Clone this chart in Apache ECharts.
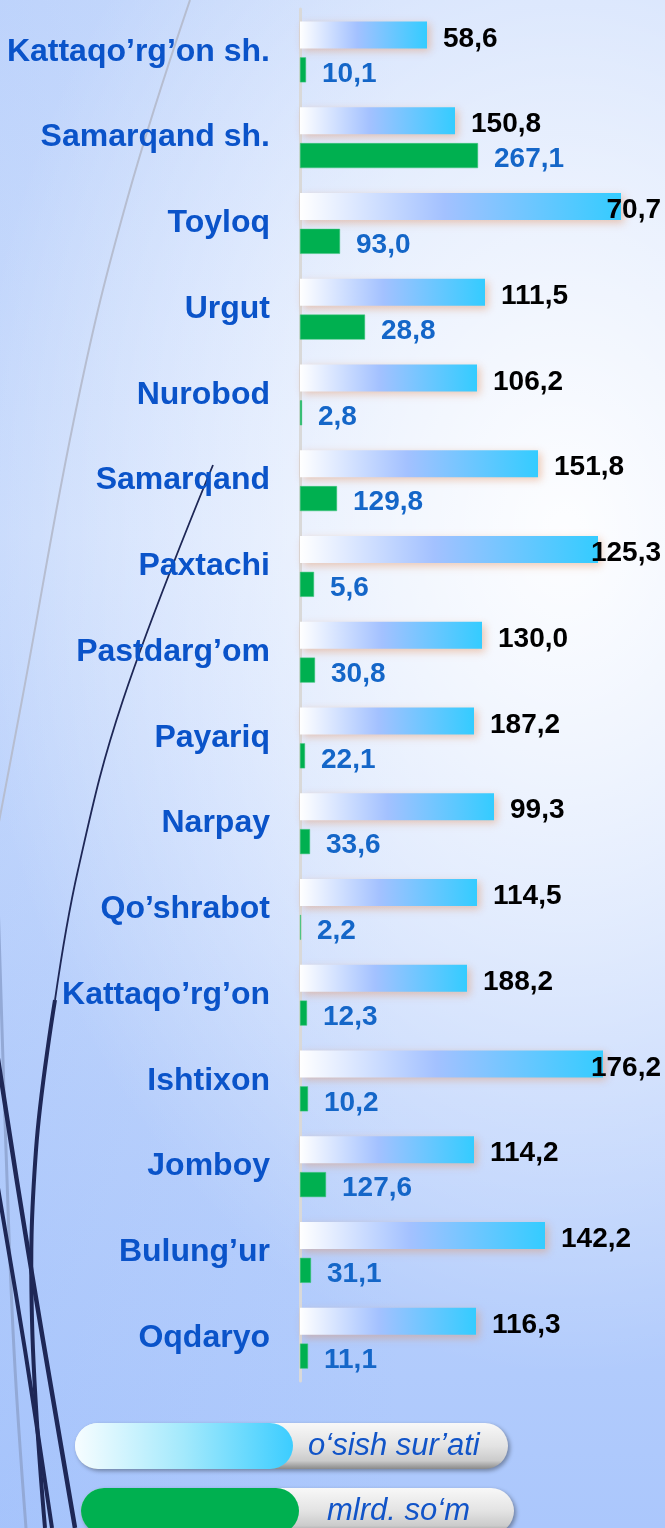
<!DOCTYPE html>
<html>
<head>
<meta charset="utf-8">
<title>Samarqand</title>
<script src="https://cdn.jsdelivr.net/npm/echarts@6/dist/echarts.min.js"></script>
<style>
  html, body { margin: 0; padding: 0; }
  body {
    width: 665px; height: 1528px; overflow: hidden;
    background:
      radial-gradient(ellipse 90% 55% at 85% 35%, rgba(255,255,255,0.95), rgba(255,255,255,0) 100%),
      linear-gradient(to right, rgba(150,185,250,0.25), rgba(255,255,255,0) 60%),
      linear-gradient(to bottom, #cbdcfc 0%, #d8e5fd 35%, #bcd2fc 72%, #abc7fc 100%);
  }
  #main { width: 665px; height: 1528px; }
</style>
</head>
<body>
<div id="main"></div>
<script>
// tumanlar (yuqoridan pastga)
var categories = ['Kattaqo’rg’on sh.', 'Samarqand sh.', 'Toyloq', 'Urgut', 'Nurobod', 'Samarqand',
  'Paxtachi', 'Pastdarg’om', 'Payariq', 'Narpay', 'Qo’shrabot', 'Kattaqo’rg’on',
  'Ishtixon', 'Jomboy', 'Bulung’ur', 'Oqdaryo'];
var seriesNames = ['o‘sish sur’ati', 'mlrd. so‘m'];

// yozuvdagi qiymatlar
var growthRate = [58.6, 150.8, 70.7, 111.5, 106.2, 151.8, 125.3, 130.0, 187.2, 99.3, 114.5, 188.2, 176.2, 114.2, 142.2, 116.3];
var amount = [10.1, 267.1, 93.0, 28.8, 2.8, 129.8, 5.6, 30.8, 22.1, 33.6, 2.2, 12.3, 10.2, 127.6, 31.1, 11.1];

// ustunlar uzunligi (rasmdagidek, qiymatga mos emas)
var growthBarLen = [127, 155, 321, 185, 177, 238, 298, 182, 174, 194, 177, 167, 303, 174, 245, 176];
var amountBarLen = [6, 178, 40, 65, 2, 37, 14, 15, 5, 10, 1, 7, 8, 26, 11, 8];

var font = "'Liberation Sans', Arial, sans-serif";

function fmt(v){
  return v.toFixed(1).replace('.', ',');
}

var barGrad = new echarts.graphic.LinearGradient(0, 0, 1, 0, [
  {offset: 0, color: '#ffffff'},
  {offset: 0.45, color: '#a3c1ff'},
  {offset: 1, color: '#34ccff'}
]);
var legendGrad = new echarts.graphic.LinearGradient(0, 0, 1, 0, [
  {offset: 0, color: '#f7fdff'},
  {offset: 0.5, color: '#a3e9fc'},
  {offset: 1, color: '#3ccdff'}
]);
var pillGrey = function(){
  return new echarts.graphic.LinearGradient(0, 0, 0, 1, [
    {offset: 0, color: '#f8f8f8'},
    {offset: 0.5, color: '#e3e3e3'},
    {offset: 0.82, color: '#cbcbcb'},
    {offset: 1, color: '#8a8a8a'}
  ]);
};
var pillIcon = 'path://M23,0L195,0A23,23,0,0,1,195,46L23,46A23,23,0,0,1,23,0Z';

// label biroz pastga, chartdan chiqib ketsa chapga suriladi
function clampRight(params){
  var r = params.labelRect;
  return {
    x: Math.min(r.x, 661 - r.width),
    y: r.y + 4,
    align: 'left',
    verticalAlign: 'top'
  };
}

var navy = '#1e2756';
function deco(points, color, width){
  return {type: 'polyline', z: -5, silent: true,
    shape: {points: points, smooth: 0.4},
    style: {stroke: color, lineWidth: width, fill: null}};
}

var option = {
  animation: false,
  grid: {left: 300, right: 0, top: 9, bottom: 147},
  xAxis: {
    type: 'value',
    min: 0,
    max: 365,
    show: false
  },
  yAxis: {
    type: 'category',
    inverse: true,
    data: categories,
    offset: 2,
    axisLine: {show: true, lineStyle: {color: '#d9d9d9', width: 3}},
    axisTick: {show: false},
    splitLine: {show: false},
    axisLabel: {
      margin: 28,
      padding: [6, 0, 0, 0],
      color: '#0a53c9',
      fontSize: 32,
      fontWeight: 'bold',
      fontFamily: font
    }
  },
  legend: [
    {
      data: [seriesNames[0]],
      left: 75, top: 1423, padding: 0,
      itemWidth: 218, itemHeight: 46,
      icon: pillIcon,
      selectedMode: false,
      itemStyle: {color: legendGrad, shadowBlur: 0, borderWidth: 0},
      textStyle: {color: '#1154c8', fontSize: 31, fontStyle: 'italic', fontFamily: font, padding: [0, 0, 0, 10]}
    },
    {
      data: [seriesNames[1]],
      left: 81, top: 1488, padding: 0,
      itemWidth: 218, itemHeight: 46,
      icon: pillIcon,
      selectedMode: false,
      itemStyle: {color: '#00b050', shadowBlur: 0, borderWidth: 0},
      textStyle: {color: '#1154c8', fontSize: 31, fontStyle: 'italic', fontFamily: font, padding: [0, 0, 0, 23]}
    }
  ],
  graphic: [
    // bezak chiziqlar
    deco([[190, 0], [127, 200], [78, 400], [22, 700], [-12, 880]], '#b6bdd0', 2),
    deco([[-2, 900], [6, 1150], [14, 1350], [26, 1528]], '#93a9d6', 3),
    deco([[213, 465], [123, 700], [78, 870], [55, 1000]], navy, 1.8),
    deco([[55, 1000], [36, 1150], [32, 1320], [45, 1528]], navy, 4),
    deco([[-5, 1040], [28, 1250], [75, 1528]], navy, 4.5),
    deco([[-5, 1170], [25, 1350], [52, 1528]], navy, 4),
    // legend fonlari
    {type: 'rect', z: 1, silent: true,
      shape: {x: 75, y: 1423, width: 433, height: 46, r: 23},
      style: {fill: pillGrey(), shadowBlur: 4, shadowColor: 'rgba(0,0,0,0.35)', shadowOffsetX: 2, shadowOffsetY: 2}},
    {type: 'rect', z: 1, silent: true,
      shape: {x: 81, y: 1488, width: 433, height: 46, r: 23},
      style: {fill: pillGrey(), shadowBlur: 4, shadowColor: 'rgba(0,0,0,0.35)', shadowOffsetX: 2, shadowOffsetY: 2}}
  ],
  series: [
    {
      name: seriesNames[0],
      type: 'bar',
      data: growthBarLen,
      barWidth: 27,
      barGap: '33%',
      itemStyle: {
        color: barGrad,
        shadowColor: 'rgba(225,140,90,0.45)',
        shadowBlur: 8,
        shadowOffsetX: 3,
        shadowOffsetY: 3
      },
      label: {
        show: true,
        position: 'right',
        distance: 16,
        color: '#000000',
        fontSize: 28,
        fontWeight: 'bold',
        fontFamily: font,
        formatter: function(p){ return fmt(growthRate[p.dataIndex]); }
      },
      labelLayout: clampRight,
      emphasis: {disabled: true}
    },
    {
      name: seriesNames[1],
      type: 'bar',
      data: amountBarLen,
      barWidth: 25,
      barGap: '33%',
      itemStyle: {color: '#00b050', borderColor: '#3cc47a', borderWidth: 0.5},
      label: {
        show: true,
        position: 'right',
        distance: 16,
        offset: [0, 4],
        color: '#1466c8',
        fontSize: 28,
        fontWeight: 'bold',
        fontFamily: font,
        formatter: function(p){ return fmt(amount[p.dataIndex]); }
      },
      emphasis: {disabled: true}
    }
  ]
};

var myChart = echarts.init(document.getElementById('main'));
option && myChart.setOption(option);
</script>
</body>
</html>
